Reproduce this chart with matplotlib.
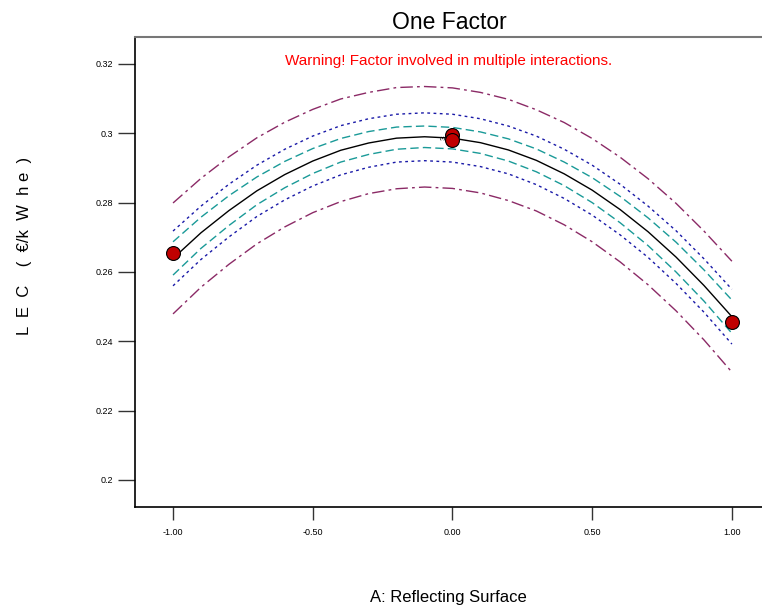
import matplotlib
matplotlib.use("Agg")
import matplotlib.pyplot as plt

plt.rcParams["font.family"] = ["Liberation Sans", "DejaVu Sans"]

# ── datos ──────────────────────────────────────────────────
a_coded = [-1.0, -0.9, -0.8, -0.7, -0.6, -0.5, -0.4, -0.3, -0.2, -0.1, 0.0,
           0.1, 0.2, 0.3, 0.4, 0.5, 0.6, 0.7, 0.8, 0.9, 1.0]

lec_fit = [0.2639, 0.2713, 0.2777, 0.2834, 0.2881, 0.2920, 0.2951, 0.2972, 0.2986, 0.2990, 0.2986,
           0.2973, 0.2952, 0.2922, 0.2883, 0.2836, 0.2780, 0.2716, 0.2643, 0.2561, 0.2471]

pi_hi = [0.2799, 0.2870, 0.2932, 0.2987, 0.3032, 0.3069, 0.3099, 0.3118, 0.3132, 0.3135, 0.3131,
         0.3118, 0.3098, 0.3068, 0.3031, 0.2985, 0.2931, 0.2869, 0.2798, 0.2718, 0.2631]
pi_lo = [0.2479, 0.2556, 0.2622, 0.2681, 0.2730, 0.2771, 0.2803, 0.2826, 0.2840, 0.2845, 0.2841,
         0.2828, 0.2806, 0.2776, 0.2736, 0.2687, 0.2629, 0.2563, 0.2488, 0.2404, 0.2311]

ti_hi = [0.2718, 0.2790, 0.2853, 0.2908, 0.2954, 0.2992, 0.3022, 0.3042, 0.3055, 0.3059, 0.3055,
         0.3042, 0.3021, 0.2992, 0.2954, 0.2908, 0.2853, 0.2790, 0.2719, 0.2638, 0.2550]
ti_lo = [0.2560, 0.2636, 0.2701, 0.2760, 0.2808, 0.2848, 0.2880, 0.2902, 0.2917, 0.2921, 0.2917,
         0.2904, 0.2883, 0.2852, 0.2812, 0.2764, 0.2707, 0.2642, 0.2567, 0.2484, 0.2392]

ci_hi = [0.2687, 0.2758, 0.2820, 0.2874, 0.2919, 0.2956, 0.2985, 0.3005, 0.3018, 0.3021, 0.3017,
         0.3004, 0.2984, 0.2955, 0.2917, 0.2872, 0.2818, 0.2756, 0.2686, 0.2606, 0.2519]
ci_lo = [0.2591, 0.2668, 0.2734, 0.2794, 0.2843, 0.2884, 0.2917, 0.2939, 0.2954, 0.2959, 0.2955,
         0.2942, 0.2920, 0.2889, 0.2849, 0.2800, 0.2742, 0.2676, 0.2600, 0.2516, 0.2423]

design_a = [-1.0, 0.0, 0.0, 1.0]
design_lec = [0.2655, 0.2995, 0.2982, 0.2455]

x_ticks = [-1.0, -0.5, 0.0, 0.5, 1.0]
x_labels = ["-1.00", "-0.50", "0.00", "0.50", "1.00"]
y_ticks = [0.2, 0.22, 0.24, 0.26, 0.28, 0.3, 0.32]
y_labels = ["0.2", "0.22", "0.24", "0.26", "0.28", "0.3", "0.32"]

# ── figura ─────────────────────────────────────────────────
fig = plt.figure(figsize=(7.62, 6.1), dpi=100)
ax = fig.add_axes([0.1772, 0.1689, 0.8240, 0.7697])

ax.plot(a_coded, pi_hi, color="#8B2A66", lw=1.0, dashes=(9, 3, 2, 3))
ax.plot(a_coded, pi_lo, color="#8B2A66", lw=1.0, dashes=(9, 3, 2, 3))
ax.plot(a_coded, ti_hi, color="#1A1AA8", lw=1.0, dashes=(2, 2.5))
ax.plot(a_coded, ti_lo, color="#1A1AA8", lw=1.0, dashes=(2, 2.5))
ax.plot(a_coded, ci_hi, color="#1A9A98", lw=1.0, dashes=(6, 3))
ax.plot(a_coded, ci_lo, color="#1A9A98", lw=1.0, dashes=(6, 3))
ax.plot(a_coded, lec_fit, color="black", lw=1.0)

ax.plot(design_a, design_lec, ls="none", marker="o", ms=10,
        mfc="#C00000", mec="black", mew=0.8, zorder=5)
ax.text(-0.03, 0.2988, "3", rotation=90, fontsize=6, ha="center", va="center")

ax.set_xlim(-1.136, 1.111)
ax.set_ylim(0.1922, 0.32765)
ax.set_xticks(x_ticks)
ax.set_xticklabels(x_labels)
ax.set_yticks(y_ticks)
ax.set_yticklabels(y_labels)
ax.tick_params(axis="both", direction="out", labelsize=6.5, width=1.0, color="#333333")
ax.tick_params(axis="x", length=9, pad=6)
ax.tick_params(axis="y", length=12, pad=4)

ax.spines["right"].set_visible(False)
ax.spines["top"].set_color("#777777")
ax.spines["top"].set_linewidth(1.5)
ax.spines["left"].set_linewidth(1.2)
ax.spines["bottom"].set_linewidth(1.2)

ax.set_title("One Factor", fontsize=16.5, pad=6)
ax.text(0.5, 0.965, "Warning! Factor involved in multiple interactions.",
        transform=ax.transAxes, color="red", fontsize=11, ha="center", va="top")

fig.text(0.0328, 0.597, "L  E  C    (  €/k  W  h e  )", rotation=90, fontsize=12,
         ha="center", va="center")
fig.text(0.589, 0.021, "A: Reflecting Surface", fontsize=12, ha="center", va="center")

fig.savefig("out.png", dpi=100, facecolor="white")
